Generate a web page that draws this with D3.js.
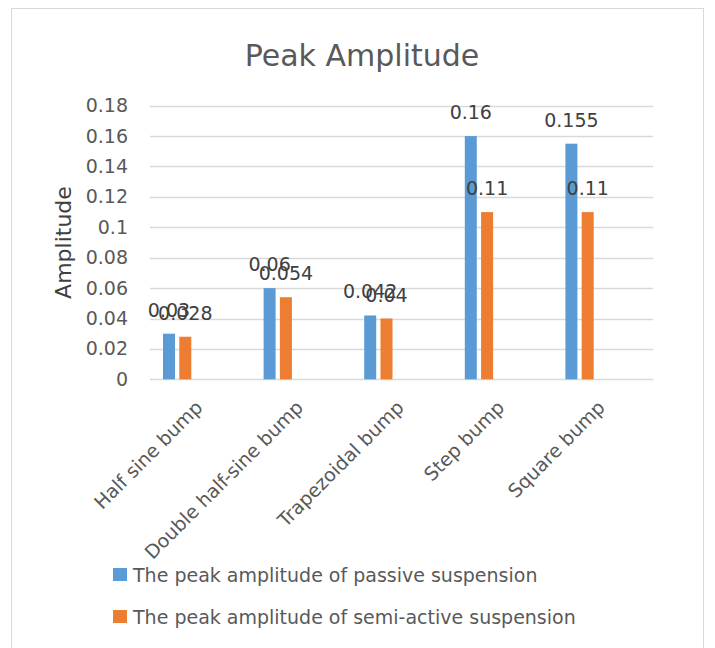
<!DOCTYPE html>
<html>
<head>
<meta charset="utf-8">
<script src="https://cdn.jsdelivr.net/npm/d3@7"></script>
<style>
  body { margin: 0; background: #fff; }
  text { font-family: "DejaVu Sans", sans-serif; }
</style>
</head>
<body>
<div id="chart"></div>
<script>
const categories = ["Half sine bump", "Double half-sine bump", "Trapezoidal bump", "Step bump", "Square bump"];
const seriesNames = ["The peak amplitude of passive suspension", "The peak amplitude of semi-active suspension"];
const passiveValues = [0.03, 0.06, 0.042, 0.16, 0.155];
const semiActiveValues = [0.028, 0.054, 0.04, 0.11, 0.11];
const yTicks = [0, 0.02, 0.04, 0.06, 0.08, 0.1, 0.12, 0.14, 0.16, 0.18];

const colors = ["#5b9bd5", "#ed7d31"];
const width = 715, height = 648;
const margin = { top: 105.7, right: 62, bottom: 268.7, left: 150 };

const svg = d3.select("#chart").append("svg")
  .attr("width", width)
  .attr("height", height);

// chart frame
svg.append("rect")
  .attr("x", 11.5).attr("y", 8.5)
  .attr("width", 692).attr("height", 660)
  .attr("fill", "#fff").attr("stroke", "#d9d9d9");

svg.append("text")
  .attr("x", 362).attr("y", 66)
  .attr("text-anchor", "middle")
  .attr("font-size", 30)
  .attr("fill", "#595959")
  .text("Peak Amplitude");

const x0 = d3.scaleBand()
  .domain(categories)
  .range([margin.left, width - margin.right]);

// bars sit left of the category centre, as in the source
const x1 = d3.scaleBand()
  .domain(seriesNames)
  .range([13, 41.3])
  .paddingInner(0.264);

const y = d3.scaleLinear()
  .domain([0, 0.18])
  .range([height - margin.bottom, margin.top]);

// gridlines
svg.append("g")
  .selectAll("line")
  .data(yTicks)
  .join("line")
  .attr("x1", margin.left).attr("x2", width - margin.right)
  .attr("y1", d => Math.round(y(d)) + 0.5)
  .attr("y2", d => Math.round(y(d)) + 0.5)
  .attr("stroke", "#d9d9d9")
  .attr("stroke-width", 1.3);

// y tick labels
const yAxis = svg.append("g")
  .attr("transform", `translate(${margin.left - 22},0)`)
  .call(d3.axisLeft(y).tickValues(yTicks).tickSize(0).tickPadding(0).tickFormat(d => d3.format("~g")(d)));
yAxis.select(".domain").remove();
yAxis.selectAll("text")
  .attr("font-size", 19)
  .attr("font-family", "DejaVu Sans, sans-serif")
  .attr("fill", "#595959");

svg.append("text")
  .attr("transform", `translate(71,${(margin.top + height - margin.bottom) / 2}) rotate(-90)`)
  .attr("text-anchor", "middle")
  .attr("font-size", 22)
  .attr("fill", "#404040")
  .text("Amplitude");

const rows = categories.map((c, i) => ({
  category: c,
  values: [passiveValues[i], semiActiveValues[i]].map((v, j) => ({ series: seriesNames[j], value: v, j }))
}));

const groups = svg.append("g")
  .selectAll("g")
  .data(rows)
  .join("g")
  .attr("transform", d => `translate(${x0(d.category)},0)`);

groups.selectAll("rect")
  .data(d => d.values)
  .join("rect")
  .attr("x", d => x1(d.series))
  .attr("width", x1.bandwidth())
  .attr("y", d => y(d.value))
  .attr("height", d => y(0) - y(d.value))
  .attr("fill", d => colors[d.j]);

// data labels overlap in the source too, kept as they are
groups.selectAll("text.lbl")
  .data(d => d.values)
  .join("text")
  .attr("class", "lbl")
  .attr("x", d => x1(d.series) + x1.bandwidth() / 2)
  .attr("y", d => y(d.value) - 17)
  .attr("text-anchor", "middle")
  .attr("font-size", 19)
  .attr("fill", "#404040")
  .text(d => d.value);

// rotated category labels
svg.append("g")
  .selectAll("text")
  .data(categories)
  .join("text")
  .attr("transform", d => `translate(${x0(d) + x0.bandwidth() / 2 - 6},${height - margin.bottom + 20}) rotate(-45)`)
  .attr("text-anchor", "end")
  .attr("dy", "0.7em")
  .attr("font-size", 19)
  .attr("fill", "#595959")
  .text(d => d);

// legend
const legend = svg.append("g")
  .selectAll("g")
  .data(seriesNames)
  .join("g")
  .attr("transform", (d, i) => `translate(113,${568 + i * 42})`);

legend.append("rect")
  .attr("width", 14).attr("height", 13)
  .attr("fill", (d, i) => colors[i]);

legend.append("text")
  .attr("x", 20).attr("y", 13.5)
  .attr("font-size", 19)
  .attr("fill", "#595959")
  .text(d => d);
</script>
</body>
</html>
